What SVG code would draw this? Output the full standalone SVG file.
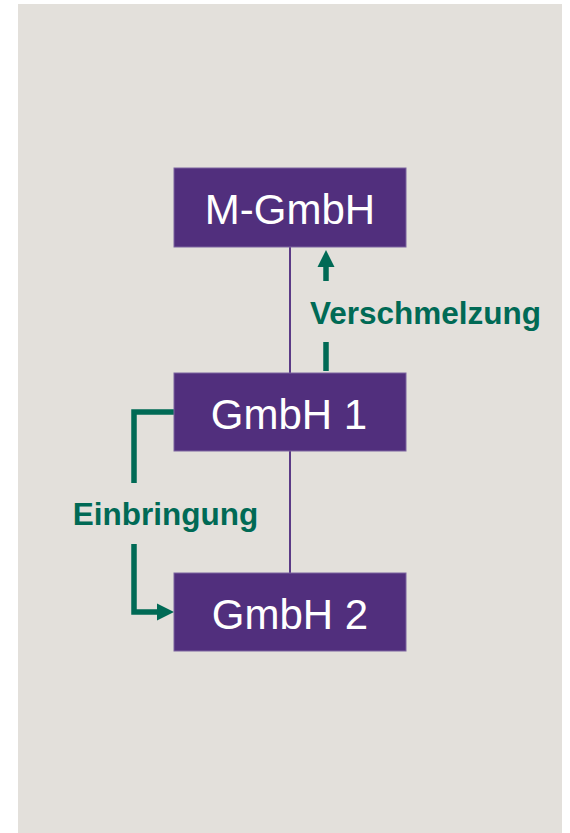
<svg xmlns="http://www.w3.org/2000/svg" width="570" height="833" viewBox="0 0 570 833">
<style>
.box{fill:#512f7d;stroke:#7d64a0;stroke-width:1}
.lbl{font-family:"Liberation Sans",Arial,sans-serif;font-size:42px;fill:#ffffff;text-anchor:middle}
.glbl{font-family:"Liberation Sans",Arial,sans-serif;font-size:31.5px;font-weight:bold;fill:#006a55}
.tree{stroke:#5b3a86;stroke-width:2;fill:none}
.flow{stroke:#006a55;stroke-width:5.5;fill:none}
.head{fill:#006a55}
</style>
<rect x="18" y="4" width="544" height="829" fill="#e3e0db"/>
<g id="connectors">
  <line class="tree" x1="290" y1="247" x2="290" y2="373"/>
  <line class="tree" x1="290" y1="451" x2="290" y2="573"/>
  <line class="flow" x1="326" y1="265" x2="326" y2="281"/>
  <polygon class="head" points="326,250 317.5,267 334.5,267"/>
  <line class="flow" x1="326" y1="342" x2="326" y2="371"/>
  <polyline class="flow" points="174,412 134,412 134,483"/>
  <polyline class="flow" points="134,544 134,612 160,612"/>
  <polygon class="head" points="174,612 157,603.5 157,620.5"/>
</g>
<g id="n_mgmbh">
  <rect class="box" x="174" y="168" width="232" height="79"/>
  <text class="lbl" x="290" y="224">M-GmbH</text>
</g>
<g id="n_gmbh1">
  <rect class="box" x="174" y="373" width="232" height="78"/>
  <text class="lbl" x="289" y="429">GmbH 1</text>
</g>
<g id="n_gmbh2">
  <rect class="box" x="174" y="573" width="232" height="78"/>
  <text class="lbl" x="290" y="629">GmbH 2</text>
</g>
<g id="labels">
  <text class="glbl" x="310" y="324">Verschmelzung</text>
  <text class="glbl" x="165.5" y="525" text-anchor="middle">Einbringung</text>
</g>
</svg>
